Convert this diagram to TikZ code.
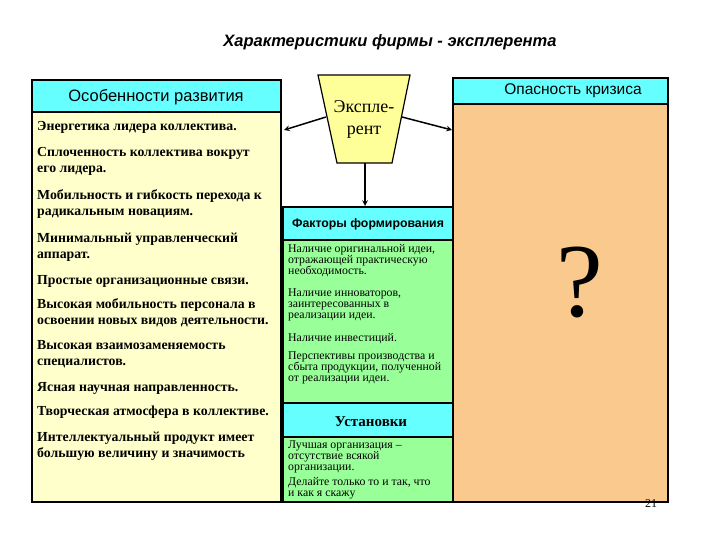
\documentclass[tikz,border=0pt]{standalone}
\usepackage{fontspec}
\setmainfont{Liberation Serif}
\newfontfamily\sans{Liberation Sans}
\begin{document}
\begin{tikzpicture}[x=1pt,y=-1pt,
  box/.style={draw=black,line width=1.2pt},
  lt/.style={anchor=north west,font=\fontsize{13.8}{16}\selectfont\bfseries,align=left,inner sep=0pt},
  mt/.style={anchor=north west,font=\fontsize{11.8}{11}\selectfont,align=left,inner sep=0pt},
  arr/.style={line width=1.5pt,-stealth}]
\useasboundingbox (0,0) rectangle (720,540);
\definecolor{cy}{HTML}{66FFFF}
\definecolor{ly}{HTML}{FFFFCC}
\definecolor{gr}{HTML}{99FF99}
\definecolor{tan}{HTML}{F9C98D}
\definecolor{yel}{HTML}{FFFF99}
\node (title) at (390,42) {\sans\itshape\bfseries\fontsize{16.5}{18}\selectfont Характеристики фирмы - эксплерента};
% left
\filldraw[box,fill=cy] (32,80) rectangle (281,112);
\filldraw[box,fill=ly] (32,112) rectangle (281,502);
\node (lh) at (156,97) {\sans\fontsize{16.5}{18}\selectfont Особенности развития};
\node[lt] (l1) at (37,121) {Энергетика лидера коллектива.};
\node[lt] (l2) at (37,147) {Сплоченность коллектива вокрут\\его лидера.};
\node[lt] (l3) at (37,189) {Мобильность и гибкость перехода к\\радикальным новациям.};
\node[lt] (l4) at (37,233) {Минимальный управленческий\\аппарат.};
\node[lt] (l5) at (37,275) {Простые организационные связи.};
\node[lt] (l6) at (37,298) {Высокая мобильность персонала в\\освоении новых видов деятельности.};
\node[lt] (l7) at (37,340) {Высокая взаимозаменяемость\\специалистов.};
\node[lt] (l8) at (37,382) {Ясная научная направленность.};
\node[lt] (l9) at (37,406) {Творческая атмосфера в коллективе.};
\node[lt] (l10) at (37,432) {Интеллектуальный продукт имеет\\большую величину и значимость};
% right
\filldraw[box,fill=cy] (453,78) rectangle (668,104);
\filldraw[box,fill=tan] (453,104) rectangle (668,502);
\node (rh) at (573,91) {\sans\fontsize{15.5}{17}\selectfont Опасность кризиса};
\node (q) at (580,282) {\fontsize{105}{105}\selectfont ?};
\node (pn) at (651,504) {\fontsize{12}{12}\selectfont 21};
% middle
\filldraw[box,fill=cy] (283,207) rectangle (453,240);
\filldraw[box,fill=gr] (283,240) rectangle (453,403);
\filldraw[box,fill=cy] (283,403) rectangle (453,437);
\filldraw[box,fill=gr] (283,437) rectangle (453,502);
\node (mh1) at (368,224) {\sans\bfseries\fontsize{12.3}{14}\selectfont Факторы формирования};
\node (mh2) at (371,422) {\bfseries\fontsize{15}{16}\selectfont Установки};
\node[mt] (m1) at (288,244) {Наличие оригинальной идеи,\\отражающей практическую\\необходимость.};
\node[mt] (m2) at (288,289) {Наличие инноваторов,\\заинтересованных в\\реализации идеи.};
\node[mt] (m3) at (288,333) {Наличие инвестиций.};
\node[mt] (m4) at (288,352) {Перспективы производства и\\сбыта продукции, полученной\\от реализации идеи.};
\node[mt] (m5) at (288,441) {Лучшая организация –\\отсутствие всякой\\организации.};
\node[mt] (m6) at (288,477) {Делайте  только то и так, что\\и как я скажу};
% trapezoid
\filldraw[box,fill=yel] (318,75) -- (410,75) -- (392,163) -- (337,163) -- cycle;
\node[align=center,font=\fontsize{18}{22}\selectfont] (e) at (364,119) {Экспле-\\рент};
\coordinate (tl) at (326,117);
\coordinate (tr) at (402,117);
\coordinate (tb) at (365,163);
\coordinate (al) at (284,130);
\coordinate (ar) at (452,130);
\coordinate (ad) at (365,206);
\draw[arr] (tl) -- (al);
\draw[arr] (tr) -- (ar);
\draw[arr] (tb) -- (ad);
\end{tikzpicture}
\end{document}
